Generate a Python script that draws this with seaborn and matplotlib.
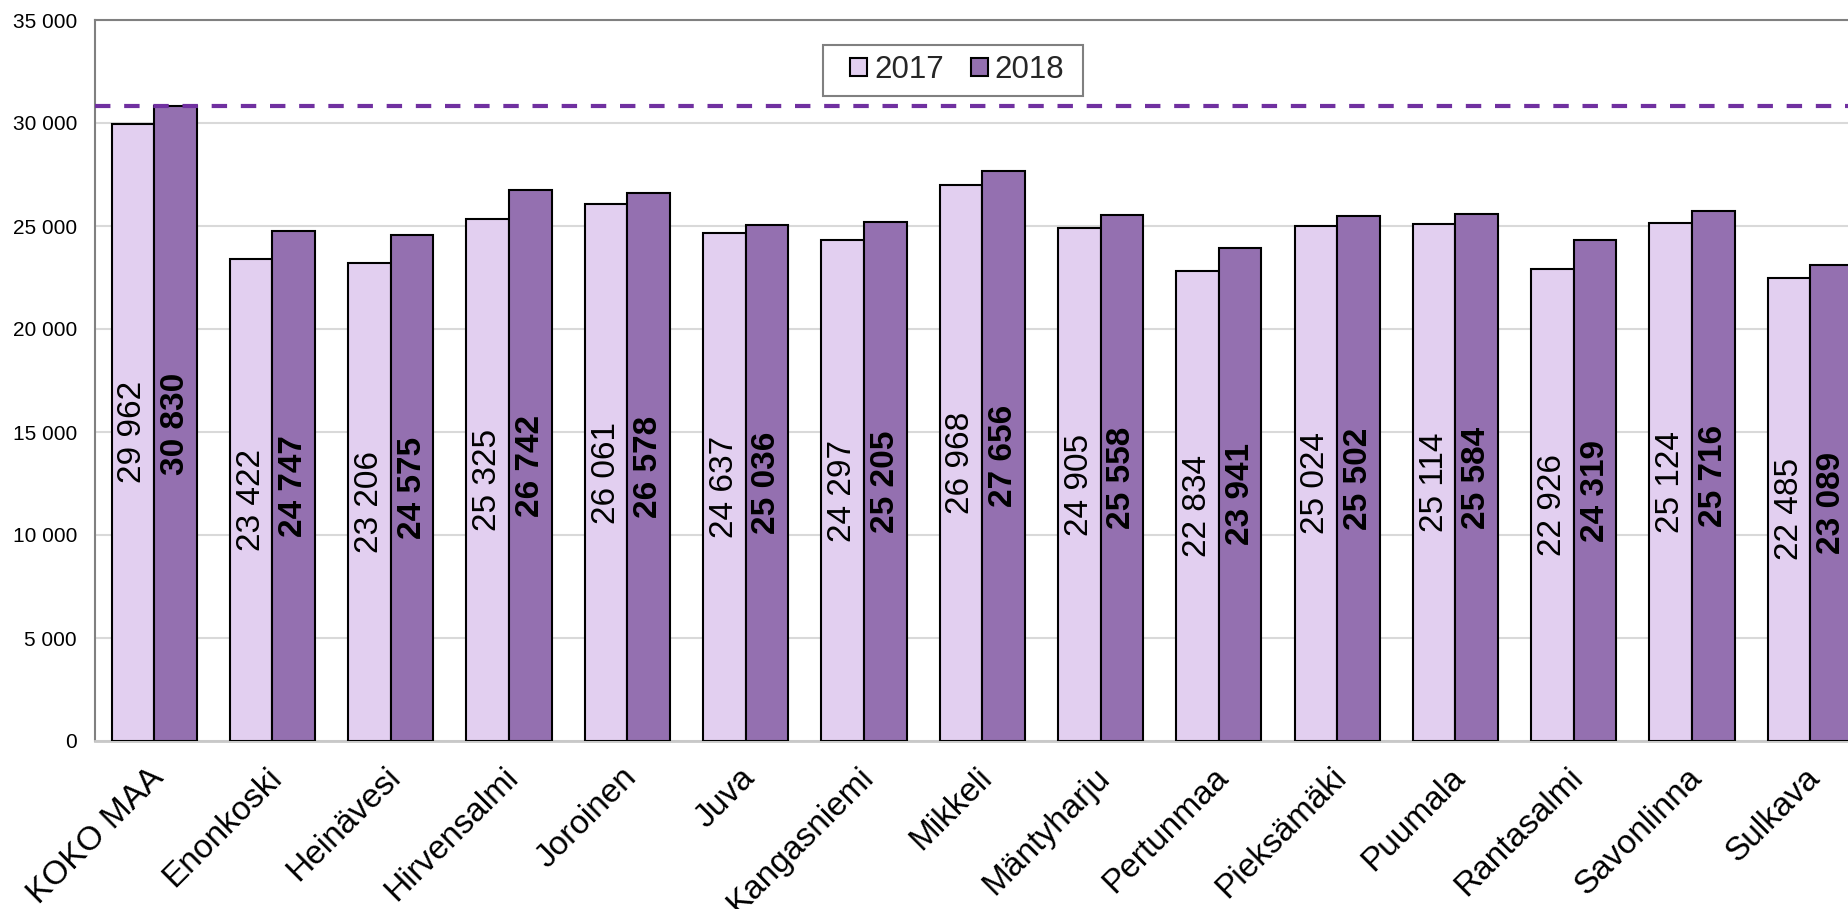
"""Bar chart: income per municipality 2017 vs 2018 (cropped view)."""
import numpy as np
import pandas as pd
import matplotlib
matplotlib.use("Agg")
import matplotlib.pyplot as plt
import matplotlib.transforms as mtransforms
import seaborn as sns
from matplotlib.patches import Rectangle
from matplotlib.ticker import FuncFormatter

KUNNAT = ["KOKO MAA", "Enonkoski", "Heinävesi", "Hirvensalmi", "Joroinen",
          "Juva", "Kangasniemi", "Mikkeli", "Mäntyharju", "Pertunmaa",
          "Pieksämäki", "Puumala", "Rantasalmi", "Savonlinna", "Sulkava"]
V2017 = [29962, 23422, 23206, 25325, 26061, 24637, 24297, 26968, 24905,
         22834, 25024, 25114, 22926, 25124, 22485]
V2018 = [30830, 24747, 24575, 26742, 26578, 25036, 25205, 27656, 25558,
         23941, 25502, 25584, 24319, 25716, 23089]
VUODET = ["2017", "2018"]
VIITE = V2018[0]  # koko maan taso, katkoviiva

C17 = "#E2CFF0"
C18 = "#9470B0"
W, H = 1849, 909


def fmt(v):
    return f"{int(v):,}".replace(",", " ")


df = pd.DataFrame({
    "kunta": KUNNAT * 2,
    "tulo": V2017 + V2018,
    "vuosi": [VUODET[0]] * len(KUNNAT) + [VUODET[1]] * len(KUNNAT),
})

sns.set_theme(style="white")
plt.rcParams["font.family"] = ["Liberation Sans", "DejaVu Sans"]

fig = plt.figure(figsize=(W / 100, H / 100), dpi=100)
# axes runs past the right edge: the picture is a crop of a wider chart
ax = fig.add_axes([95 / W, 1 - 741 / H, 1774.5 / W, 721 / H])

sns.barplot(data=df, x="kunta", y="tulo", hue="vuosi", palette=[C17, C18],
            saturation=1, edgecolor="black", linewidth=1.5, width=0.72,
            ax=ax, zorder=3, legend=True)

ax.set_ylim(0, 35000)
ax.set_xlim(-0.5, 14.5)
ax.set_yticks(np.arange(0, 35001, 5000))
ax.yaxis.set_major_formatter(FuncFormatter(lambda v, _: fmt(v)))
ax.grid(axis="y", color="#D9D9D9", linewidth=1.5, zorder=0)
ax.set_axisbelow(True)
ax.set_xlabel("")
ax.set_ylabel("")

ax.tick_params(axis="y", length=0, pad=13, colors="black", labelsize=15)
ax.tick_params(axis="x", length=0, pad=15)
ax.set_xticks(range(len(KUNNAT)))
ax.set_xticklabels(KUNNAT, rotation=45, ha="right", rotation_mode="anchor",
                   fontsize=24, color="black")
shift = mtransforms.ScaledTranslation(-6 / 100, 0, fig.dpi_scale_trans)
for lab in ax.get_xticklabels():
    lab.set_transform(lab.get_transform() + shift)

for side in ["left", "top"]:
    ax.spines[side].set_color("#808080")
    ax.spines[side].set_linewidth(1.5)
ax.spines["bottom"].set_color("#C8C8C8")
ax.spines["bottom"].set_linewidth(2)
ax.spines["right"].set_visible(False)

ax.axhline(VIITE, color="#7030A0", linewidth=3, linestyle=(0, (3.7, 3.3)), zorder=4)

for cont, vals, w in zip(ax.containers, [V2017, V2018], ["normal", "bold"]):
    ax.bar_label(cont, labels=[fmt(v) for v in vals], label_type="center",
                 rotation=90, color="black", fontsize=24, fontweight=w)

# legend box drawn separately so its padding can differ left/right
ax.add_patch(Rectangle((823 / W, 1 - 95.7 / H), 259.7 / W, 50.7 / H,
                       transform=fig.transFigure, facecolor="white",
                       edgecolor="#808080", linewidth=1.5, zorder=5,
                       clip_on=False))
leg = ax.legend(loc="center left", bbox_to_anchor=(850 / W, 1 - 70 / H),
                bbox_transform=fig.transFigure, ncol=2, fontsize=22.5,
                frameon=False, handlelength=0.55, handleheight=0.55,
                handletextpad=0.22, columnspacing=0.86, borderpad=0,
                borderaxespad=0)
leg.set_zorder(6)
for h in leg.legend_handles:
    h.set_edgecolor("black")
    h.set_linewidth(1.5)

fig.savefig("out.png", dpi=100)
